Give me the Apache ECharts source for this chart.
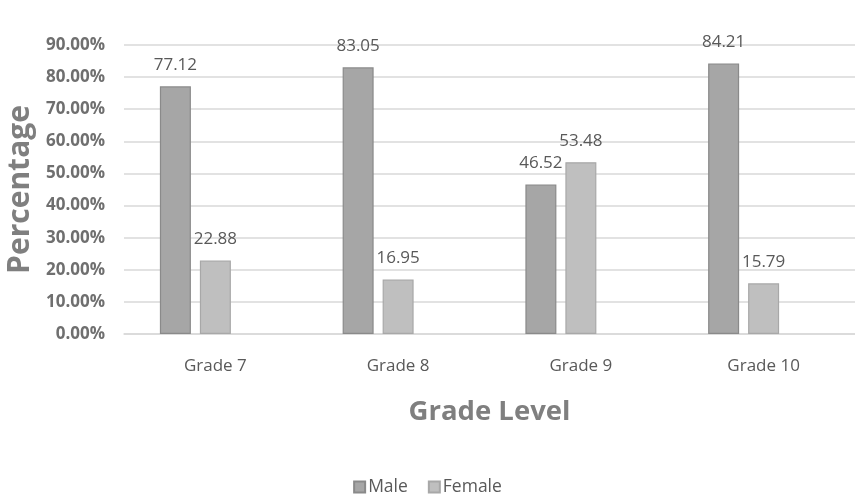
<!DOCTYPE html>
<html>
<head>
<meta charset="utf-8">
<script src="https://cdn.jsdelivr.net/npm/echarts@6/dist/echarts.min.js"></script>
<style>
  html, body { margin: 0; padding: 0; background: #ffffff; }
  #chart { width: 855px; height: 495px; }
</style>
</head>
<body>
<div id="chart"></div>
<script>
// Share of students by gender in each grade (percent)
const grades = ['Grade 7', 'Grade 8', 'Grade 9', 'Grade 10'];
const maleValues = [77.12, 83.05, 46.52, 84.21];
const femaleValues = [22.88, 16.95, 53.48, 15.79];
// third slot of each group is left empty
const emptyValues = [null, null, null, null];

const FONT = '"Open Sans", "Liberation Sans", sans-serif';

const chart = echarts.init(document.getElementById('chart'), null, { renderer: 'canvas' });

function barSeries(name, data, fill, edge) {
  return {
    name: name,
    type: 'bar',
    data: data,
    barWidth: 31,
    barGap: '29%',
    barCategoryGap: '39%',
    itemStyle: { color: fill, borderColor: edge, borderWidth: 1.2 },
    label: {
      show: true,
      position: 'top',
      distance: 13,
      color: '#595959',
      fontFamily: FONT,
      fontSize: 17,
      formatter: p => p.value.toFixed(2)
    }
  };
}

chart.setOption({
  animation: false,
  backgroundColor: '#ffffff',
  textStyle: { fontFamily: FONT },
  grid: { left: 124, right: 0, top: 45, bottom: 161, outerBoundsMode: 'none', containLabel: false },
  legend: {
    data: ['Male', 'Female'],
    top: 473,
    left: 'center',
    icon: 'rect',
    itemWidth: 11,
    itemHeight: 11,
    itemGap: 20,
    textStyle: { color: '#595959', fontSize: 17.5, fontFamily: FONT, padding: [0, 0, 0, -2] }
  },
  xAxis: {
    type: 'category',
    data: grades,
    name: 'Grade Level',
    nameLocation: 'middle',
    nameGap: 64,
    nameTextStyle: { color: '#7f7f7f', fontSize: 27.5, fontWeight: 'bold', fontFamily: FONT },
    axisLine: { show: true, lineStyle: { color: '#d9d9d9', width: 1.5 } },
    axisTick: { show: false },
    axisLabel: { color: '#595959', fontSize: 17, margin: 24, fontFamily: FONT }
  },
  yAxis: {
    type: 'value',
    min: 0,
    max: 90,
    interval: 10,
    name: 'Percentage',
    nameLocation: 'middle',
    nameGap: 89,
    nameTextStyle: { color: '#7f7f7f', fontSize: 30, fontWeight: 'bold', fontFamily: FONT },
    axisLine: { show: false },
    axisTick: { show: false },
    splitLine: { lineStyle: { color: '#d9d9d9', width: 1.5 } },
    axisLabel: {
      color: '#6f6f6f',
      fontSize: 17,
      fontWeight: 'bold',
      margin: 19,
      fontFamily: FONT,
      formatter: v => v.toFixed(2) + '%'
    }
  },
  series: [
    barSeries('Male', maleValues, '#a6a6a6', '#8a8a8a'),
    barSeries('Female', femaleValues, '#bfbfbf', '#a8a8a8'),
    {
      name: 'blank',
      type: 'bar',
      data: emptyValues,
      barWidth: 31,
      barGap: '29%',
      barCategoryGap: '39%'
    }
  ]
});
</script>
</body>
</html>
